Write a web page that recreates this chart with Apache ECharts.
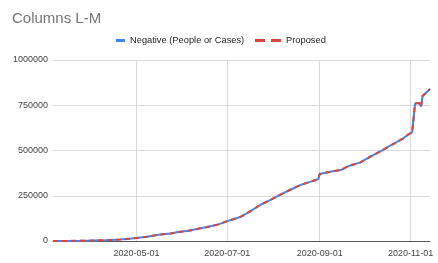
<!DOCTYPE html>
<html><head><meta charset="utf-8">
<script src="https://cdn.jsdelivr.net/npm/echarts@6/dist/echarts.min.js"></script>
<style>html,body{margin:0;padding:0;background:#fff}#c{width:438px;height:263px}</style>
</head><body><div id="c"></div>
<script>
const title = 'Columns L-M';
const seriesNames = ['Negative (People or Cases)', 'Proposed'];
const startDate = '2020-03-06';
const endDate = '2020-11-14';
const tickLabels = ['2020-05-01', '2020-07-01', '2020-09-01', '2020-11-01'];
const yTicks = [0, 250000, 500000, 750000, 1000000];
const pointDates = ['2020-03-06','2020-03-15','2020-03-24','2020-04-01','2020-04-07','2020-04-14','2020-04-20','2020-04-26','2020-05-01','2020-05-08','2020-05-17','2020-05-24','2020-05-28','2020-06-06','2020-06-13','2020-06-19','2020-06-25','2020-07-01','2020-07-05','2020-07-10','2020-07-16','2020-07-23','2020-07-30','2020-08-06','2020-08-13','2020-08-19','2020-08-26','2020-08-31','2020-09-01','2020-09-08','2020-09-15','2020-09-21','2020-09-28','2020-10-05','2020-10-12','2020-10-18','2020-10-22','2020-10-27','2020-10-30','2020-11-02','2020-11-03','2020-11-04','2020-11-07','2020-11-08','2020-11-09','2020-11-10','2020-11-14'];
const negativeValues = [0,500,1500,2500,4000,5500,8000,12000,16000,24000,36000,42000,48000,58000,70000,80000,92000,110000,120000,134000,162000,199000,227000,258000,286000,309000,328000,341000,370000,383000,392000,416000,433000,466000,497000,525000,543000,567000,586000,600000,608000,761000,761000,742000,801000,812000,840000];
const proposedValues = negativeValues.slice();

function dayList(a, b) {
  const out = [];
  let t = Date.parse(a + 'T00:00:00Z');
  const e = Date.parse(b + 'T00:00:00Z');
  while (t <= e) { out.push(new Date(t).toISOString().slice(0, 10)); t += 86400000; }
  return out;
}
const categories = dayList(startDate, endDate);
function toSeries(vals) {
  const m = {};
  pointDates.forEach((d, i) => { m[d] = vals[i]; });
  return categories.map(d => (d in m ? m[d] : null));
}
const isTick = (i, v) => tickLabels.indexOf(v) >= 0;
const font = 'Liberation Sans, Arial, sans-serif';

const chart = echarts.init(document.getElementById('c'), null, {renderer: 'canvas'});
chart.setOption({
  animation: false,
  backgroundColor: '#fff',
  textStyle: {fontFamily: font},
  title: {text: title, left: 7, top: 6, textStyle: {fontSize: 15, fontWeight: 'normal', color: '#757575', fontFamily: font}},
  legend: [
    {top: 36, left: 116, padding: 0, itemGap: 0, itemWidth: 9, itemHeight: 3, icon: 'rect',
     textStyle: {fontSize: 9.3, color: '#222'},
     data: [seriesNames[0]]},
    {top: 36, left: 255, padding: 0, itemGap: 0, itemWidth: 26, itemHeight: 3, icon: 'path://M0,0H10V3H0ZM16,0H26V3H16Z',
     textStyle: {fontSize: 9.3, color: '#222'},
     data: [seriesNames[1]]}
  ],
  grid: {left: 53, right: 8, top: 60, bottom: 22, containLabel: false},
  xAxis: {
    type: 'category', data: categories, boundaryGap: false,
    axisLine: {show: true, lineStyle: {color: '#555', width: 1}},
    axisTick: {show: false},
    axisLabel: {interval: isTick, fontSize: 9, color: '#444', margin: 8},
    splitLine: {show: true, interval: isTick, lineStyle: {color: '#d9d9d9', width: 1}}
  },
  yAxis: {
    type: 'value', min: yTicks[0], max: yTicks[yTicks.length - 1], interval: 250000,
    axisLine: {show: false}, axisTick: {show: false},
    axisLabel: {fontSize: 9, color: '#444', margin: 5, formatter: v => String(v)},
    splitLine: {lineStyle: {color: '#d9d9d9'}}
  },
  series: [
    {name: seriesNames[0], type: 'line', data: toSeries(negativeValues), connectNulls: true, showSymbol: false, symbol: 'none',
     itemStyle: {color: '#4285F4'}, lineStyle: {color: '#4285F4', width: 2}},
    {name: seriesNames[1], type: 'line', data: toSeries(proposedValues), connectNulls: true, showSymbol: false, symbol: 'none',
     itemStyle: {color: '#DB4437'}, lineStyle: {color: '#DB4437', width: 2, type: [5, 4]}}
  ]
});
</script></body></html>
